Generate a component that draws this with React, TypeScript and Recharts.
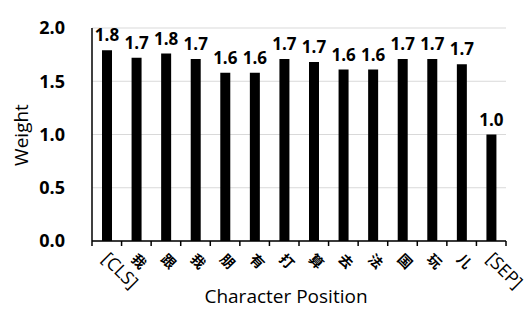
import React from "react";
import {
  BarChart,
  Bar,
  XAxis,
  YAxis,
  CartesianGrid,
  LabelList,
} from "recharts";

const CATEGORIES = [
  "[CLS]",
  "我",
  "跟",
  "我",
  "朋",
  "有",
  "打",
  "算",
  "去",
  "法",
  "国",
  "玩",
  "儿",
  "[SEP]",
];

const WEIGHTS = [
  1.79, 1.72, 1.76, 1.71, 1.58, 1.58, 1.71, 1.68, 1.61, 1.61, 1.71, 1.71, 1.66,
  1.0,
];

const Y_TICKS = [0, 0.5, 1.0, 1.5, 2.0];

const W = 532;
const H = 327;
const MARGIN = { top: 28, right: 26, left: 0, bottom: 0 };
const Y_AXIS_W = 92;
const BAND = (W - MARGIN.left - MARGIN.right - Y_AXIS_W) / CATEGORIES.length;
const FONT = "'Open Sans', 'Noto Sans CJK SC', sans-serif";
const CJK_FONT = "'Noto Sans CJK SC', sans-serif";

const data = CATEGORIES.map((c, i) => ({ pos: c, w: WEIGHTS[i] }));

const XTick = (props: any) => {
  const { x, y, payload, index } = props;
  const cjk = /[^\x00-\x7F]/.test(payload.value);
  const tx = x - 6;
  const ty = y + 19;
  return (
    <g>
      <line x1={x - BAND / 2} x2={x - BAND / 2} y1={y} y2={y + 5} stroke="#000" strokeWidth={1.5} />
      {index === CATEGORIES.length - 1 && (
        <line x1={x + BAND / 2} x2={x + BAND / 2} y1={y} y2={y + 5} stroke="#000" strokeWidth={1.5} />
      )}
      <text
        x={tx}
        y={ty}
        transform={`rotate(45, ${tx}, ${ty})`}
        fontSize={cjk ? 14 : 18}
        fontWeight={cjk ? 700 : 400}
        fontFamily={cjk ? CJK_FONT : FONT}
        fill="#000"
        stroke="none"
        textAnchor="start"
      >
        {payload.value}
      </text>
    </g>
  );
};

export default function App() {
  return (
    <div style={{ position: "absolute", left: 0, top: 0, background: "#fff" }}>
      <BarChart width={W} height={H} data={data} margin={MARGIN}>
        <CartesianGrid vertical={false} stroke="#d9d9d9" />
        <XAxis
          dataKey="pos"
          height={H - MARGIN.top - 213}
          interval={0}
          tick={<XTick />}
          tickLine={false}
          tickSize={0}
          tickMargin={0}
          axisLine={{ stroke: "#000", strokeWidth: 1.5 }}
          label={{
            content: () => (
              <text
                x={286}
                y={296}
                textAnchor="middle"
                dominantBaseline="central"
                fontSize={19}
                fontFamily={FONT}
                fill="#000"
              >
                Character Position
              </text>
            ),
          }}
        />
        <YAxis
          width={Y_AXIS_W}
          domain={[0, 2]}
          ticks={Y_TICKS}
          tickFormatter={(v: number) => v.toFixed(1)}
          tick={{ fontSize: 18, fontWeight: 700, fill: "#000", fontFamily: FONT }}
          tickLine={false}
          tickSize={0}
          tickMargin={27}
          axisLine={{ stroke: "#000", strokeWidth: 1.5 }}
          label={{
            content: () => (
              <text
                x={21}
                y={135}
                transform="rotate(-90, 21, 135)"
                textAnchor="middle"
                dominantBaseline="central"
                fontSize={19}
                fontFamily={FONT}
                fill="#000"
              >
                Weight
              </text>
            ),
          }}
        />
        <Bar dataKey="w" fill="#000" barSize={10} isAnimationActive={false}>
          <LabelList
            dataKey="w"
            position="top"
            offset={9}
            formatter={(v: any) => Number(v).toFixed(1)}
            style={{ fontSize: 17, fontWeight: 700, fill: "#000", fontFamily: FONT }}
          />
        </Bar>
      </BarChart>
    </div>
  );
}
